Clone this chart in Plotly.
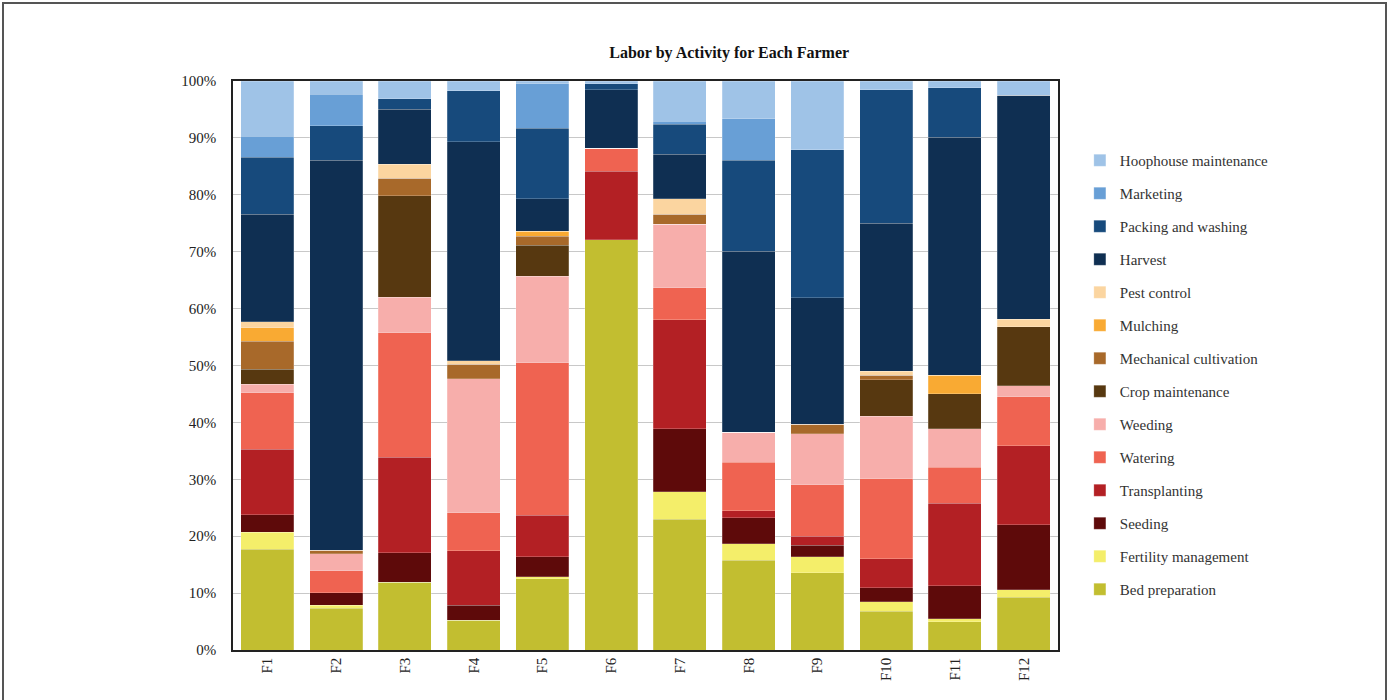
import plotly.graph_objects as go

farmers = ["F1", "F2", "F3", "F4", "F5", "F6", "F7", "F8", "F9", "F10", "F11", "F12"]

bed_preparation       = [17.7, 7.3, 11.9, 5.2, 12.5, 72.1, 23.0, 15.8, 13.6, 6.8, 5.0, 9.3]
fertility_management  = [3.0, 0.6, 0.0, 0.0, 0.4, 0.0, 4.8, 2.9, 2.8, 1.7, 0.5, 1.3]
seeding               = [3.1, 2.2, 5.2, 2.7, 3.5, 0.0, 11.1, 4.5, 2.0, 2.4, 5.8, 11.4]
transplanting         = [11.5, 0.0, 16.8, 9.5, 7.3, 12.0, 19.1, 1.3, 1.6, 5.1, 14.5, 13.9]
watering              = [9.9, 3.8, 21.9, 6.7, 26.8, 4.1, 5.7, 8.5, 9.0, 14.1, 6.3, 8.6]
weeding               = [1.5, 3.0, 6.2, 23.6, 15.2, 0.0, 11.1, 5.3, 9.0, 11.0, 6.8, 1.9]
crop_maintenance      = [2.6, 0.0, 17.8, 0.0, 5.4, 0.0, 0.0, 0.0, 0.0, 6.4, 6.1, 10.4]
mechanical_cultivation= [5.0, 0.6, 3.1, 2.5, 1.6, 0.0, 1.8, 0.0, 1.7, 0.8, 0.0, 0.0]
mulching              = [2.3, 0.0, 0.0, 0.0, 0.9, 0.0, 0.0, 0.0, 0.0, 0.0, 3.3, 0.0]
pest_control          = [1.1, 0.0, 2.5, 0.6, 0.0, 0.0, 2.7, 0.0, 0.0, 0.7, 0.0, 1.3]
harvest               = [18.9, 68.6, 9.6, 38.5, 5.7, 10.3, 7.8, 31.8, 22.2, 26.0, 41.8, 39.4]
packing_and_washing   = [10.0, 6.0, 1.9, 9.0, 12.4, 1.0, 5.3, 16.0, 26.0, 23.5, 8.7, 0.0]
marketing             = [3.7, 5.6, 0.0, 0.0, 7.8, 0.0, 0.5, 7.3, 0.0, 0.0, 0.0, 0.0]
hoophouse_maintenance = [9.7, 2.3, 3.1, 1.7, 0.5, 0.5, 7.1, 6.6, 12.1, 1.5, 1.2, 2.5]

series = [
    ("Bed preparation", bed_preparation, "#c2be30"),
    ("Fertility management", fertility_management, "#f4ee6a"),
    ("Seeding", seeding, "#5e0a0a"),
    ("Transplanting", transplanting, "#b32024"),
    ("Watering", watering, "#ef6351"),
    ("Weeding", weeding, "#f7aeab"),
    ("Crop maintenance", crop_maintenance, "#573810"),
    ("Mechanical cultivation", mechanical_cultivation, "#a8692a"),
    ("Mulching", mulching, "#f9aa33"),
    ("Pest control", pest_control, "#fbd5a0"),
    ("Harvest", harvest, "#0f2f52"),
    ("Packing and washing", packing_and_washing, "#174a7c"),
    ("Marketing", marketing, "#689fd6"),
    ("Hoophouse maintenance", hoophouse_maintenance, "#9fc3e7"),
]

fig = go.Figure()
for i, (name, vals, col) in enumerate(series):
    fig.add_trace(go.Bar(
        x=farmers, y=vals, name=name, legendgroup=name, legendrank=1000 - i,
        marker=dict(color=col, line=dict(width=0.6, color="rgba(255,255,255,0.35)")),
    ))

serif = "Liberation Serif, Times New Roman, serif"
fig.update_layout(
    barmode="stack",
    bargap=0.23,
    width=1389, height=700,
    margin=dict(l=233, r=331, t=81, b=50),
    paper_bgcolor="white", plot_bgcolor="white",
    font=dict(family=serif, size=15, color="#222"),
    title=dict(text="<b>Labor by Activity for Each Farmer</b>", x=0.525, xanchor="center",
               y=1 - 52 / 700, yanchor="middle", font=dict(family=serif, size=16, color="#111")),
    legend=dict(traceorder="grouped", tracegroupgap=10.5, x=1.0265, xanchor="left",
                y=(650 - 144) / 569, yanchor="top", font=dict(family=serif, size=15, color="#333"),
                itemwidth=30, bgcolor="rgba(0,0,0,0)"),
    showlegend=True,
)
fig.update_yaxes(range=[0, 100], dtick=10, ticksuffix="%", showgrid=True, gridcolor="#c8c8c8",
                 gridwidth=1, showline=True, linecolor="#222", linewidth=1.5, mirror=True,
                 ticks="", ticklabelstandoff=12, tickfont=dict(family=serif, size=15, color="#222"),
                 zeroline=False)
fig.update_xaxes(tickangle=-90, showline=True, linecolor="#222", linewidth=1.5, mirror=True,
                 ticks="", tickfont=dict(family=serif, size=15, color="#222"))

# outer frame around the whole image
fig.add_shape(type="rect", xref="paper", yref="paper",
              x0=(3 - 233) / 825, x1=(1386 - 233) / 825,
              y0=(650 - 705) / 569, y1=(650 - 3) / 569,
              line=dict(color="#555", width=2), fillcolor="rgba(0,0,0,0)", layer="below")

fig.write_html("out.html", config={"displayModeBar": False},
               post_script="document.body.style.margin='0';")
